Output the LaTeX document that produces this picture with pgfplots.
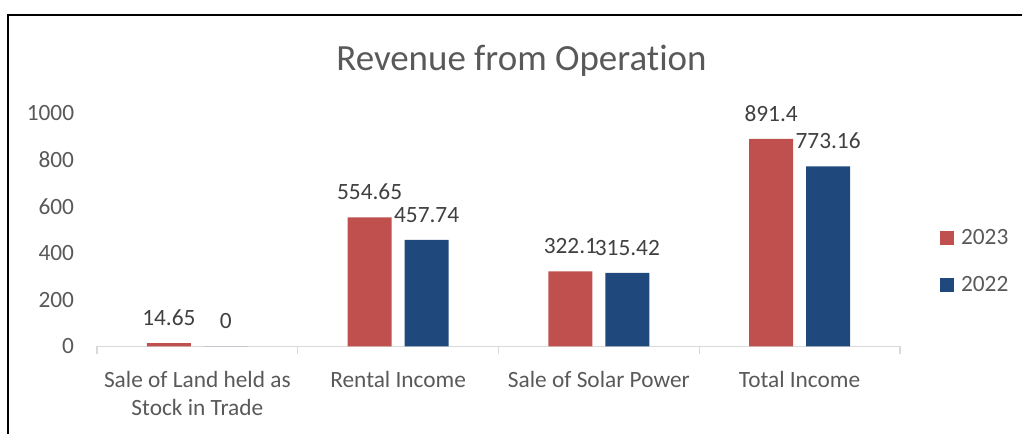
\documentclass[border=0pt]{standalone}
\usepackage{pgfplots}
\pgfplotsset{compat=1.18}
\usepackage{fontspec}
\setmainfont{Carlito}[Ligatures=NoCommon]
\definecolor{cred}{HTML}{C0504D}
\definecolor{cblue}{HTML}{1F497D}
\definecolor{tgray}{HTML}{595959}
\definecolor{lgray}{HTML}{404040}
\definecolor{agray}{HTML}{D9D9D9}
\begin{document}
\begin{tikzpicture}
\useasboundingbox (0,0) rectangle (766.5pt,325.5pt);
\draw[black, line width=1.5pt] (6.2pt,0) -- (6.2pt,313.9pt) -- (767pt,313.9pt);
\begin{axis}[
  at={(72.75pt,65.625pt)}, anchor=south west,
  scale only axis, width=602.25pt, height=174.75pt,
  xmin=-0.5, xmax=3.5, ymin=0, ymax=1000,
  clip=false,
  ybar=9.75pt, bar width=33pt,
  axis x line*=bottom, axis y line*=left,
  y axis line style={draw=none},
  x axis line style={draw=agray, line width=1pt},
  ytick={0,200,400,600,800,1000},
  ytick style={draw=none},
  yticklabel={\pgfmathprintnumber[1000 sep={}]{\tick}},
  xtick={0,1,2,3},
  xticklabels={{Sale of Land held as\\Stock in Trade},{Rental Income},{Sale of Solar Power},{Total Income}},
  xtick style={draw=none},
  extra x ticks={-0.5,0.5,1.5,2.5,3.5},
  extra x tick labels={},
  extra x tick style={xtick style={draw=agray, line width=1pt}, major tick length=5.5pt, tick align=outside, grid=none},
  /pgf/number format/assume math mode=true,
  /pgf/number format/1000 sep={},
  tick label style={font=\fontsize{17.5}{21.5}\selectfont, text=tgray},
  yticklabel style={inner sep=0pt, xshift=-17pt},
  xticklabel style={align=center, inner sep=0pt, yshift=-14pt, anchor=north},
  title={Revenue from Operation},
  title style={at={(0.5286,1.19)}, anchor=center, font=\fontsize{27.7}{32}\selectfont, text=tgray},
  nodes near coords={\pgfmathprintnumber[fixed,precision=2]{\pgfplotspointmeta}},
  every node near coord/.append style={font=\fontsize{17.5}{21}\selectfont, text=lgray, inner sep=0pt, yshift=13pt, anchor=south},
  legend style={at={(1.05,0.365)}, anchor=west, draw=none, fill=none, inner sep=0pt,
    font=\fontsize{17.5}{21}\selectfont, text=tgray, row sep=22pt,
    nodes={inner sep=0pt, text=tgray}},
  legend cell align=left,
]
\addplot[fill=cred, draw=none, legend image code/.code={\fill[cred] (0pt,-5.25pt) rectangle (10.5pt,5.25pt);}] coordinates {(0,14.65) (1,554.65) (2,322.1) (3,891.4)};
\addplot[fill=cblue, draw=none, legend image code/.code={\fill[cblue] (0pt,-5.25pt) rectangle (10.5pt,5.25pt);}] coordinates {(0,0) (1,457.74) (2,315.42) (3,773.16)};
\legend{\hspace{5pt}2023,\hspace{5pt}2022}
\end{axis}
\end{tikzpicture}
\end{document}
